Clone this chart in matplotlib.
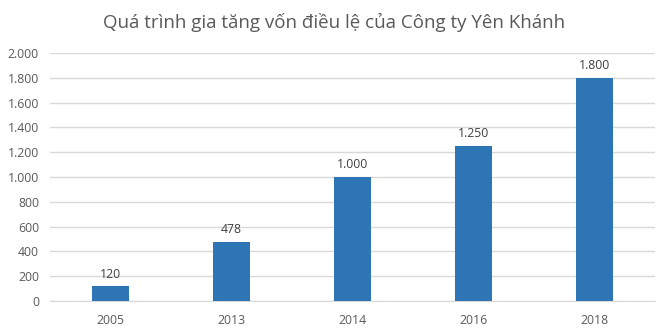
import matplotlib
matplotlib.use("Agg")
import matplotlib.pyplot as plt
from matplotlib.ticker import FuncFormatter

years = ["2005", "2013", "2014", "2016", "2018"]
values = [120, 478, 1000, 1250, 1800]
title = "Quá trình gia tăng vốn điều lệ của Công ty Yên Khánh"

def vn(v):
    return f"{int(v):,}".replace(",", ".")

plt.rcParams['font.family'] = ['Open Sans', 'DejaVu Sans']
fig = plt.figure(figsize=(6.68, 3.33), dpi=100)
ax = fig.add_axes([50/668, 1-301/333, 605/668, 248/333])
x = list(range(len(years)))
bars = ax.bar(x, values, width=0.31, color="#2E75B6", zorder=3)
ax.set_xlim(-0.5, len(years)-0.5)
ax.set_ylim(0, 2000)
ax.set_yticks(range(0, 2001, 200))
ax.yaxis.set_major_formatter(FuncFormatter(lambda v, p: vn(v)))
ax.set_xticks(x)
ax.set_xticklabels(years)
ax.grid(axis="y", color="#D9D9D9", linewidth=1, zorder=0)
for s in ["top", "right", "left"]:
    ax.spines[s].set_visible(False)
ax.spines["bottom"].set_color("#D9D9D9")
ax.tick_params(axis="both", length=0, labelsize=8.8, colors="#595959")
ax.tick_params(axis="x", pad=9)
ax.tick_params(axis="y", pad=8)
for xi, v in zip(x, values):
    ax.text(xi, v + 45, vn(v), ha="center", va="bottom", fontsize=8.8, color="#404040")
fig.text(0.5, 1-22/333, title, ha="center", va="center", fontsize=13.5, color="#595959")
fig.savefig("out.png", dpi=100)
